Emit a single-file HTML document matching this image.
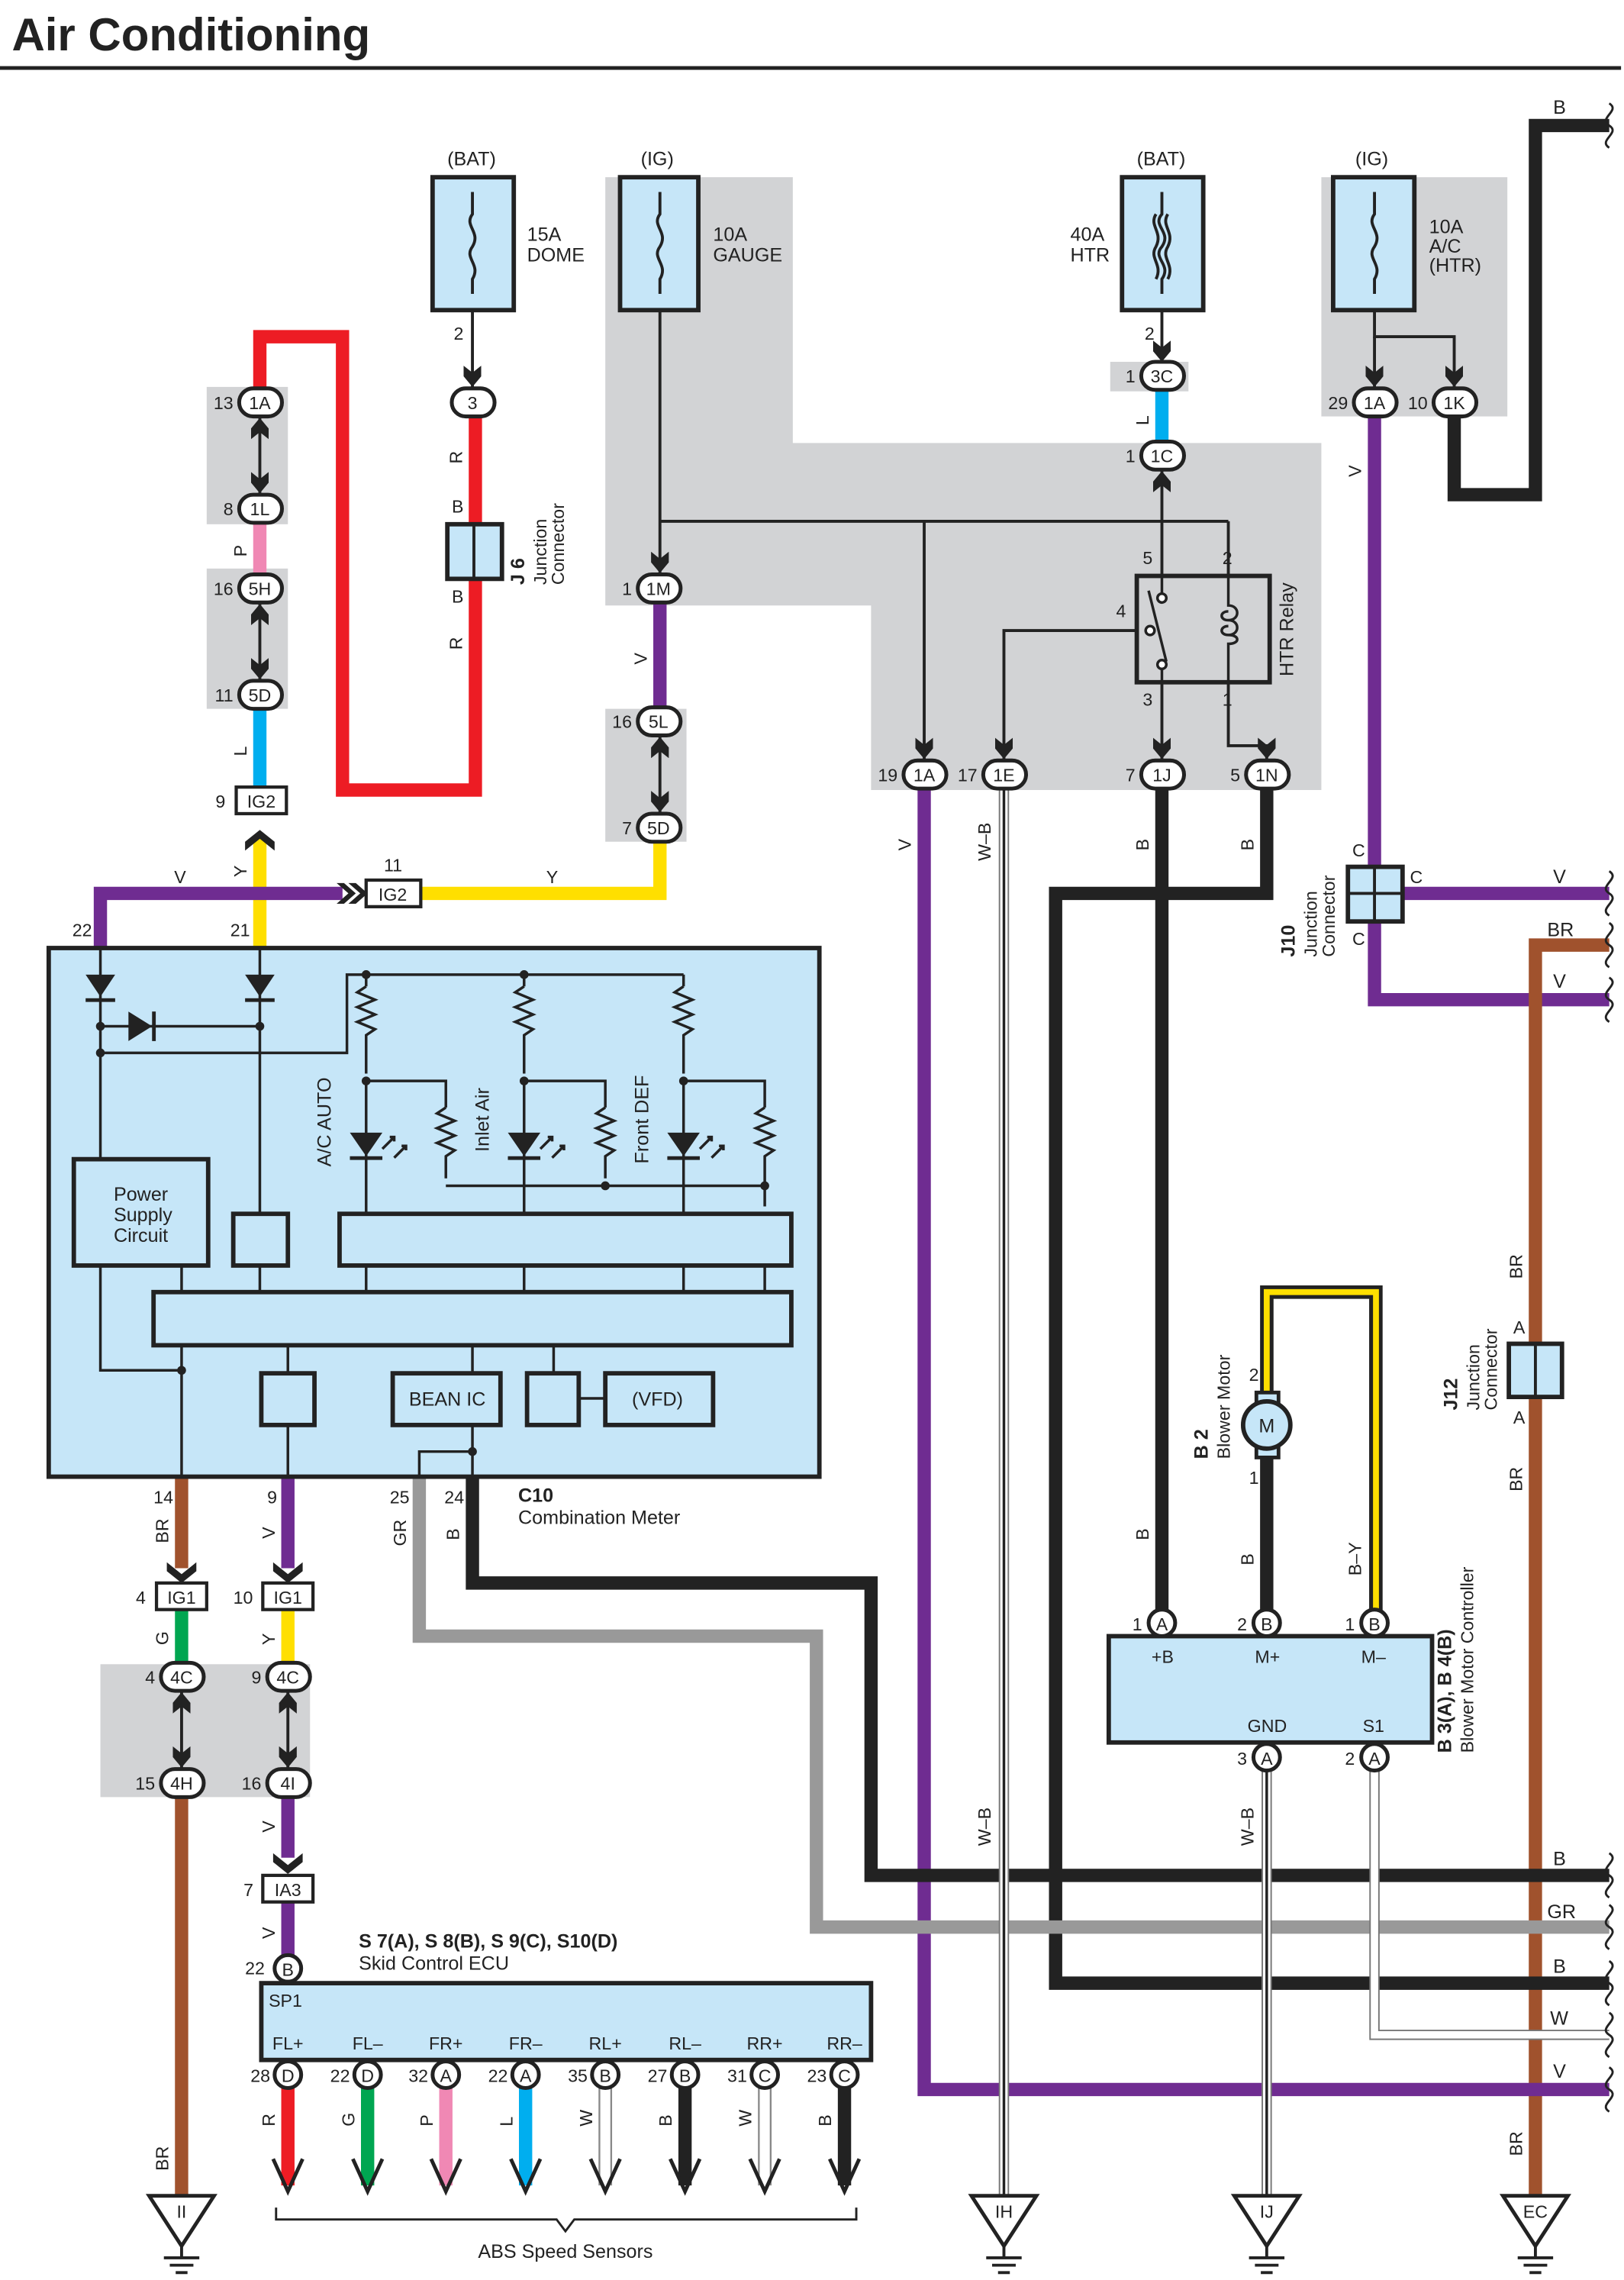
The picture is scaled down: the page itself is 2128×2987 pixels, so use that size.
<!DOCTYPE html>
<html><head><meta charset="utf-8"><style>
html,body{margin:0;padding:0;background:#fff}
svg{display:block}
text{font-family:"Liberation Sans",sans-serif;fill:#222}
</style></head><body>
<svg width="2128" height="2987" viewBox="0 0 1100 1544" xmlns="http://www.w3.org/2000/svg">
<defs>
<marker id="ah" viewBox="0 0 12 10" refX="12" refY="5" markerWidth="7.2" markerHeight="6" orient="auto-start-reverse"><path d="M0,0 L4,5 L0,10 L6,10 L12,5 L6,0Z" fill="#222"/></marker>
</defs>
<rect width="1100" height="1544" fill="#fff"/>
<text x="8" y="34" font-size="31" font-weight="bold" fill="#222">Air Conditioning</text>
<line x1="0" y1="46" x2="1098" y2="46" stroke="#222" stroke-width="2.5"/>

<g fill="#d2d3d5">
<polygon points="410,120 537,120 537,300 895,300 895,535 590,535 590,410 410,410"/>
<rect x="410" y="480" width="55" height="90"/>
<rect x="895" y="120" width="126" height="162"/>
<rect x="752" y="245" width="53" height="20"/>
<rect x="140" y="262" width="55" height="93"/>
<rect x="140" y="385" width="55" height="95"/>
<rect x="68" y="1127" width="142" height="90"/>
</g>

<g stroke="#222" stroke-width="3" fill="#c6e6f8">
<rect x="293" y="120" width="55" height="90"/>
<rect x="420" y="120" width="53" height="90"/>
<rect x="760" y="120" width="55" height="90"/>
<rect x="903" y="120" width="55" height="90"/>
</g>
<g stroke="#222" stroke-width="2" fill="none">
<path d="M320,130 v15 c-6,8 6,12 0,22 c-6,8 6,12 0,22 v10"/>
<path d="M447,130 v15 c-6,8 6,12 0,22 c-6,8 6,12 0,22 v10"/>
<path d="M787,130 v15 c-7,8 7,12 0,22 c-7,8 7,12 0,22 v10"/>
<path d="M783,145 c-5,8 5,12 0,22 c-5,8 5,12 0,22"/>
<path d="M791,145 c-5,8 5,12 0,22 c-5,8 5,12 0,22"/>
<path d="M931,130 v15 c-6,8 6,12 0,22 c-6,8 6,12 0,22 v10"/>
</g>
<g font-size="13">
<text x="303" y="112">(BAT)</text><text x="434" y="112">(IG)</text><text x="770" y="112">(BAT)</text><text x="918" y="112">(IG)</text>
<text x="357" y="163">15A</text><text x="357" y="177">DOME</text>
<text x="483" y="163">10A</text><text x="483" y="177">GAUGE</text>
<text x="725" y="163">40A</text><text x="725" y="177">HTR</text>
<text x="968" y="158">10A</text><text x="968" y="171">A/C</text><text x="968" y="184">(HTR)</text>
</g>

<g fill="none" stroke-linejoin="miter" stroke-width="9">
<polyline stroke="#ed1c24" points="176,262 176,228 232,228 232,535 322,535 322,392"/>
<line stroke="#ed1c24" x1="322" y1="282" x2="322" y2="355"/>
<line stroke="#f088b4" x1="176" y1="352" x2="176" y2="390"/>
<line stroke="#00aeef" x1="176" y1="478" x2="176" y2="535"/>
<line stroke="#ffdf00" x1="176" y1="568" x2="176" y2="642"/>
<polyline stroke="#6f2c91" points="68,642 68,605 232,605"/>
<polyline stroke="#ffdf00" points="285,605 447,605 447,568"/>
<line stroke="#6f2c91" x1="447" y1="406" x2="447" y2="482"/>
<line stroke="#00aeef" x1="787" y1="262" x2="787" y2="302"/>
<polyline stroke="#222" points="985,280 985,335 1040,335 1040,85 1090,85"/>
<polyline stroke="#6f2c91" points="931,280 931,677 1090,677"/>
<line stroke="#6f2c91" x1="931" y1="605" x2="1090" y2="605"/>
<polyline stroke="#a0522d" points="1090,640 1040,640 1040,1490"/>
<line stroke="#222" x1="787" y1="532" x2="787" y2="1092"/>
<polyline stroke="#222" points="858,532 858,605 715,605 715,1343 1090,1343"/>
<polyline stroke="#6f2c91" points="626,532 626,1415 1090,1415"/>
<line stroke="#222" x1="858" y1="980" x2="858" y2="1092"/>
<line stroke="#a0522d" x1="123" y1="1000" x2="123" y2="1062"/>
<line stroke="#00a651" x1="123" y1="1089" x2="123" y2="1128"/>
<line stroke="#a0522d" x1="123" y1="1215" x2="123" y2="1488"/>
<line stroke="#6f2c91" x1="195" y1="1000" x2="195" y2="1062"/>
<line stroke="#ffdf00" x1="195" y1="1089" x2="195" y2="1128"/>
<line stroke="#6f2c91" x1="195" y1="1215" x2="195" y2="1258"/>
<line stroke="#6f2c91" x1="195" y1="1288" x2="195" y2="1325"/>
<polyline stroke="#999" points="284,1000 284,1108 553,1108 553,1305 1090,1305"/>
<polyline stroke="#222" points="320,1000 320,1072 590,1072 590,1270 1090,1270"/>
</g>
<polyline points="858,950 858,875 932,875 932,1092" fill="none" stroke="#222" stroke-width="9"/>
<polyline points="858,950 858,875 932,875 932,1092" fill="none" stroke="#ffdf00" stroke-width="4"/>
<polyline points="862,950 862,879 928,879 928,1092" fill="none" stroke="#222" stroke-width="1.2"/>
<g fill="none">
<line x1="680" y1="532" x2="680" y2="1488" stroke="#777" stroke-width="7"/>
<line x1="680" y1="532" x2="680" y2="1488" stroke="#fff" stroke-width="5"/>
<line x1="680" y1="532" x2="680" y2="1488" stroke="#222" stroke-width="1.8"/>
<line x1="858" y1="1198" x2="858" y2="1488" stroke="#777" stroke-width="7"/>
<line x1="858" y1="1198" x2="858" y2="1488" stroke="#fff" stroke-width="5"/>
<line x1="858" y1="1198" x2="858" y2="1488" stroke="#222" stroke-width="1.8"/>
<polyline points="931,1198 931,1378 1090,1378" stroke="#777" stroke-width="7"/>
<polyline points="931,1198 931,1378 1090,1378" stroke="#fff" stroke-width="5"/>
</g>

<g fill="none" stroke="#222" stroke-width="1.5">
<path d="M1090,70 c8,5 -8,10 0,15 c8,5 -8,10 0,15"/>
<path d="M1090,590 c8,5 -8,10 0,15 c8,5 -8,10 0,15"/>
<path d="M1090,625 c8,5 -8,10 0,15 c8,5 -8,10 0,15"/>
<path d="M1090,662 c8,5 -8,10 0,15 c8,5 -8,10 0,15"/>
<path d="M1090,1255 c8,5 -8,10 0,15 c8,5 -8,10 0,15"/>
<path d="M1090,1290 c8,5 -8,10 0,15 c8,5 -8,10 0,15"/>
<path d="M1090,1328 c8,5 -8,10 0,15 c8,5 -8,10 0,15"/>
<path d="M1090,1363 c8,5 -8,10 0,15 c8,5 -8,10 0,15"/>
<path d="M1090,1400 c8,5 -8,10 0,15 c8,5 -8,10 0,15"/>
</g>
<g font-size="13">
<text x="1052" y="77">B</text><text x="1052" y="598">V</text><text x="1048" y="634">BR</text><text x="1052" y="669">V</text>
<text x="1052" y="1263">B</text><text x="1048" y="1299">GR</text><text x="1052" y="1336">B</text><text x="1050" y="1371">W</text><text x="1052" y="1407">V</text>
</g>

<g fill="none" stroke="#222" stroke-width="2">
<line x1="320" y1="210" x2="320" y2="262" marker-end="url(#ah)"/>
<line x1="447" y1="210" x2="447" y2="388" marker-end="url(#ah)"/>
<line x1="447" y1="353" x2="832" y2="353"/>
<line x1="626" y1="353" x2="626" y2="514" marker-end="url(#ah)"/>
<polyline points="770,427 680,427 680,514" marker-end="url(#ah)"/>
<line x1="787" y1="210" x2="787" y2="245" marker-end="url(#ah)"/>
<line x1="787" y1="390" x2="787" y2="319" marker-end="url(#ah)"/>
<line x1="787" y1="462" x2="787" y2="514" marker-end="url(#ah)"/>
<polyline points="832,353 832,390"/>
<polyline points="832,462 832,505 858,505 858,514" marker-end="url(#ah)"/>
<polyline points="931,210 931,228 985,228 985,262" marker-end="url(#ah)"/>
<line x1="931" y1="228" x2="931" y2="262" marker-end="url(#ah)"/>
<line x1="176" y1="283" x2="176" y2="334" marker-start="url(#ah)" marker-end="url(#ah)"/>
<line x1="176" y1="409" x2="176" y2="460" marker-start="url(#ah)" marker-end="url(#ah)"/>
<line x1="447" y1="499" x2="447" y2="550" marker-start="url(#ah)" marker-end="url(#ah)"/>
<line x1="123" y1="1146" x2="123" y2="1197" marker-start="url(#ah)" marker-end="url(#ah)"/>
<line x1="195" y1="1146" x2="195" y2="1197" marker-start="url(#ah)" marker-end="url(#ah)"/>
</g>
<g fill="#222">
<path d="M113,1058 l10,8 l10,-8 v6 l-10,8 l-10,-8z"/>
<path d="M185,1058 l10,8 l10,-8 v6 l-10,8 l-10,-8z"/>
<path d="M185,1255 l10,8 l10,-8 v6 l-10,8 l-10,-8z"/>
<path d="M166,570 l10,-8 l10,8 v6 l-10,-8 l-10,8z"/>
<path d="M228,598 l8,7 l-8,7 h5 l8,-7 l-8,-7z"/>
<path d="M236,598 l8,7 l-8,7 h5 l8,-7 l-8,-7z"/>
</g>

<rect x="770" y="390" width="90" height="72" fill="none" stroke="#222" stroke-width="3"/>
<g fill="none" stroke="#222" stroke-width="1.8">
<line x1="787" y1="390" x2="787" y2="402"/><circle cx="787" cy="405" r="3" fill="#fff"/>
<line x1="778" y1="400" x2="790" y2="448"/><circle cx="779" cy="427" r="3" fill="#fff"/>
<circle cx="787" cy="450" r="3" fill="#fff"/><line x1="787" y1="453" x2="787" y2="462"/>
<path d="M832,390 v20 c8,0 8,10 0,10 c-6,0 -6,-6 0,-6 M832,420 c8,0 8,10 0,10 c-6,0 -6,-6 0,-6 M832,430 c8,0 8,6 0,6 v26"/>
</g>
<text transform="translate(876,458) rotate(-90)" font-size="13">HTR Relay</text>
<g font-size="12">
<text x="774" y="382">5</text><text x="828" y="382">2</text><text x="756" y="418">4</text><text x="774" y="478">3</text><text x="828" y="478">1</text>
</g>

<rect x="303" y="355" width="37" height="37" fill="#c6e6f8" stroke="#222" stroke-width="3"/>
<line x1="321" y1="355" x2="321" y2="392" stroke="#222" stroke-width="2"/>
<text x="306" y="347" font-size="12">B</text><text x="306" y="408" font-size="12">B</text>
<text transform="translate(355,396) rotate(-90)" font-size="13" font-weight="bold">J 6</text>
<text transform="translate(370,396) rotate(-90)" font-size="12">Junction</text>
<text transform="translate(382,396) rotate(-90)" font-size="12">Connector</text>
<rect x="913" y="587" width="37" height="37" fill="#c6e6f8" stroke="#222" stroke-width="3"/>
<line x1="913" y1="605" x2="950" y2="605" stroke="#222" stroke-width="2"/>
<line x1="931" y1="587" x2="931" y2="624" stroke="#222" stroke-width="2"/>
<text x="916" y="580" font-size="12">C</text><text x="955" y="598" font-size="12">C</text><text x="916" y="640" font-size="12">C</text>
<text transform="translate(877,648) rotate(-90)" font-size="13" font-weight="bold">J10</text>
<text transform="translate(892,648) rotate(-90)" font-size="12">Junction</text>
<text transform="translate(904,648) rotate(-90)" font-size="12">Connector</text>
<rect x="1022" y="910" width="36" height="36" fill="#c6e6f8" stroke="#222" stroke-width="3"/>
<line x1="1040" y1="910" x2="1040" y2="946" stroke="#222" stroke-width="2"/>
<text x="1025" y="903" font-size="12">A</text><text x="1025" y="964" font-size="12">A</text>
<text transform="translate(987,955) rotate(-90)" font-size="13" font-weight="bold">J12</text>
<text transform="translate(1002,955) rotate(-90)" font-size="12">Junction</text>
<text transform="translate(1014,955) rotate(-90)" font-size="12">Connector</text>

<g stroke="#222" stroke-width="2.6" fill="#fff">
<rect x="162" y="263" width="29" height="19" rx="9.5"/>
<rect x="306" y="263" width="29" height="19" rx="9.5"/>
<rect x="162" y="335" width="29" height="19" rx="9.5"/>
<rect x="162" y="389" width="29" height="19" rx="9.5"/>
<rect x="162" y="461" width="29" height="19" rx="9.5"/>
<rect x="432" y="389" width="29" height="19" rx="9.5"/>
<rect x="432" y="479" width="29" height="19" rx="9.5"/>
<rect x="432" y="551" width="29" height="19" rx="9.5"/>
<rect x="773" y="245" width="29" height="19" rx="9.5"/>
<rect x="773" y="299" width="29" height="19" rx="9.5"/>
<rect x="612" y="515" width="29" height="19" rx="9.5"/>
<rect x="666" y="515" width="29" height="19" rx="9.5"/>
<rect x="773" y="515" width="29" height="19" rx="9.5"/>
<rect x="844" y="515" width="29" height="19" rx="9.5"/>
<rect x="917" y="263" width="29" height="19" rx="9.5"/>
<rect x="971" y="263" width="29" height="19" rx="9.5"/>
<rect x="109" y="1126" width="29" height="19" rx="9.5"/>
<rect x="181" y="1126" width="29" height="19" rx="9.5"/>
<rect x="109" y="1198" width="29" height="19" rx="9.5"/>
<rect x="181" y="1198" width="29" height="19" rx="9.5"/>
</g>
<g font-size="12" text-anchor="middle">
<text x="176" y="277">1A</text><text x="320" y="277">3</text><text x="176" y="349">1L</text><text x="176" y="403">5H</text><text x="176" y="475">5D</text>
<text x="446" y="403">1M</text><text x="446" y="493">5L</text><text x="446" y="565">5D</text>
<text x="787" y="259">3C</text><text x="787" y="313">1C</text>
<text x="626" y="529">1A</text><text x="680" y="529">1E</text><text x="787" y="529">1J</text><text x="858" y="529">1N</text>
<text x="931" y="277">1A</text><text x="985" y="277">1K</text>
<text x="123" y="1140">4C</text><text x="195" y="1140">4C</text><text x="123" y="1212">4H</text><text x="195" y="1212">4I</text>
</g>
<g font-size="12" text-anchor="end">
<text x="158" y="277">13</text><text x="158" y="349">8</text><text x="158" y="403">16</text><text x="158" y="475">11</text>
<text x="314" y="230">2</text><text x="428" y="403">1</text><text x="428" y="493">16</text><text x="428" y="565">7</text>
<text x="782" y="230">2</text><text x="769" y="259">1</text><text x="769" y="313">1</text>
<text x="608" y="529">19</text><text x="662" y="529">17</text><text x="769" y="529">7</text><text x="840" y="529">5</text>
<text x="913" y="277">29</text><text x="967" y="277">10</text>
<text x="105" y="1140">4</text><text x="177" y="1140">9</text><text x="105" y="1212">15</text><text x="177" y="1212">16</text>
</g>
<g stroke="#222" stroke-width="2.2" fill="#fff">
<rect x="160" y="533" width="34" height="18"/>
<rect x="248" y="596" width="37" height="18"/>
<rect x="106" y="1072" width="34" height="18"/>
<rect x="178" y="1072" width="34" height="18"/>
<rect x="178" y="1270" width="34" height="18"/>
</g>
<g font-size="12" text-anchor="middle">
<text x="177" y="547">IG2</text><text x="266" y="610">IG2</text><text x="123" y="1086">IG1</text><text x="195" y="1086">IG1</text><text x="195" y="1284">IA3</text>
</g>
<g font-size="12">
<text x="146" y="547">9</text><text x="260" y="590">11</text><text x="92" y="1086">4</text><text x="158" y="1086">10</text><text x="165" y="1284">7</text>
<text x="49" y="634">22</text><text x="156" y="634">21</text>
</g>

<g font-size="12">
<text transform="translate(313,314) rotate(-90)">R</text>
<text transform="translate(313,440) rotate(-90)">R</text>
<text transform="translate(167,377) rotate(-90)">P</text>
<text transform="translate(167,512) rotate(-90)">L</text>
<text transform="translate(167,594) rotate(-90)">Y</text>
<text x="118" y="598">V</text><text x="370" y="598">Y</text>
<text transform="translate(438,450) rotate(-90)">V</text>
<text transform="translate(778,288) rotate(-90)">L</text>
<text transform="translate(922,323) rotate(-90)">V</text>
<text transform="translate(617,576) rotate(-90)">V</text>
<text transform="translate(671,583) rotate(-90)">W–B</text>
<text transform="translate(778,576) rotate(-90)">B</text>
<text transform="translate(849,576) rotate(-90)">B</text>
<text transform="translate(778,1043) rotate(-90)">B</text>
<text transform="translate(849,1060) rotate(-90)">B</text>
<text transform="translate(922,1067) rotate(-90)">B–Y</text>
<text transform="translate(1031,866) rotate(-90)">BR</text>
<text transform="translate(1031,1010) rotate(-90)">BR</text>
<text transform="translate(1031,1460) rotate(-90)">BR</text>
<text transform="translate(671,1250) rotate(-90)">W–B</text>
<text transform="translate(849,1250) rotate(-90)">W–B</text>
<text transform="translate(114,1045) rotate(-90)">BR</text>
<text transform="translate(114,1114) rotate(-90)">G</text>
<text transform="translate(114,1470) rotate(-90)">BR</text>
<text transform="translate(186,1042) rotate(-90)">V</text>
<text transform="translate(186,1114) rotate(-90)">Y</text>
<text transform="translate(186,1241) rotate(-90)">V</text>
<text transform="translate(186,1313) rotate(-90)">V</text>
<text transform="translate(275,1047) rotate(-90)">GR</text>
<text transform="translate(311,1043) rotate(-90)">B</text>
</g>

<rect x="33" y="642" width="522" height="358" fill="#c6e6f8" stroke="#222" stroke-width="3"/>
<g fill="none" stroke="#222" stroke-width="1.8">
<polyline points="68,642 68,785"/><polyline points="176,642 176,822"/>
<line x1="68" y1="695" x2="176" y2="695"/>
<polyline points="68,713 235,713 235,660 463,660"/>
<line x1="248" y1="660" x2="248" y2="668"/><line x1="355" y1="660" x2="355" y2="668"/><line x1="463" y1="660" x2="463" y2="668"/>
<path d="M248,668 l-6,4 l12,5 l-12,5 l12,5 l-12,5 l12,5 l-6,4 v26 M355,668 l-6,4 l12,5 l-12,5 l12,5 l-12,5 l12,5 l-6,4 v26 M463,668 l-6,4 l12,5 l-12,5 l12,5 l-12,5 l12,5 l-6,4 v26"/>
<line x1="248" y1="732" x2="248" y2="822"/><line x1="355" y1="732" x2="355" y2="822"/><line x1="463" y1="732" x2="463" y2="822"/>
<polyline points="248,732 302,732 302,750"/><polyline points="355,732 410,732 410,750"/><polyline points="463,732 518,732 518,750"/>
<path d="M302,750 l-6,4 l12,5 l-12,5 l12,5 l-12,5 l12,5 l-6,4 v15 M410,750 l-6,4 l12,5 l-12,5 l12,5 l-12,5 l12,5 l-6,4 v15 M518,750 l-6,4 l12,5 l-12,5 l12,5 l-12,5 l12,5 l-6,4 v34"/>
<line x1="302" y1="803" x2="518" y2="803"/>
<line x1="123" y1="857" x2="123" y2="875"/><line x1="176" y1="857" x2="176" y2="875"/>
<line x1="248" y1="857" x2="248" y2="875"/><line x1="355" y1="857" x2="355" y2="875"/><line x1="463" y1="857" x2="463" y2="875"/><line x1="518" y1="857" x2="518" y2="875"/>
<polyline points="68,857 68,928 123,928"/>
<line x1="123" y1="911" x2="123" y2="1000"/>
<line x1="195" y1="911" x2="195" y2="930"/><line x1="195" y1="965" x2="195" y2="1000"/>
<line x1="320" y1="911" x2="320" y2="930"/><line x1="320" y1="965" x2="320" y2="1000"/>
<polyline points="320,983 284,983 284,1000"/>
<line x1="375" y1="911" x2="375" y2="930"/><line x1="392" y1="947" x2="410" y2="947"/>
<path d="M259,778 l8,-8 m-3,0 h3 v3 M267,784 l8,-8 m-3,0 h3 v3 M366,778 l8,-8 m-3,0 h3 v3 M374,784 l8,-8 m-3,0 h3 v3 M474,778 l8,-8 m-3,0 h3 v3 M482,784 l8,-8 m-3,0 h3 v3"/>
</g>
<g fill="#222">
<path d="M58,660 h20 l-10,15z"/><rect x="58" y="676" width="20" height="2.5"/>
<path d="M166,660 h20 l-10,15z"/><rect x="166" y="676" width="20" height="2.5"/>
<path d="M87,685 v20 l16,-10z"/><rect x="103" y="685" width="2.5" height="20"/>
<path d="M237,767 h22 l-11,16z"/><rect x="237" y="783" width="22" height="2.5"/>
<path d="M344,767 h22 l-11,16z"/><rect x="344" y="783" width="22" height="2.5"/>
<path d="M452,767 h22 l-11,16z"/><rect x="452" y="783" width="22" height="2.5"/>
<circle cx="68" cy="695" r="3"/><circle cx="176" cy="695" r="3"/><circle cx="68" cy="713" r="3"/>
<circle cx="248" cy="660" r="3"/><circle cx="355" cy="660" r="3"/>
<circle cx="248" cy="732" r="3"/><circle cx="355" cy="732" r="3"/><circle cx="463" cy="732" r="3"/>
<circle cx="410" cy="803" r="3"/><circle cx="518" cy="803" r="3"/>
<circle cx="123" cy="928" r="3"/><circle cx="320" cy="983" r="3"/>
</g>
<g fill="none" stroke="#222" stroke-width="3">
<rect x="50" y="785" width="91" height="72"/>
<rect x="158" y="822" width="37" height="35"/>
<rect x="230" y="822" width="306" height="35"/>
<rect x="104" y="875" width="432" height="36"/>
<rect x="177" y="930" width="36" height="35"/>
<rect x="266" y="930" width="73" height="35"/>
<rect x="357" y="930" width="35" height="35"/>
<rect x="410" y="930" width="73" height="35"/>
</g>
<g font-size="13">
<text x="77" y="813">Power</text><text x="77" y="827">Supply</text><text x="77" y="841">Circuit</text>
<text x="277" y="952">BEAN IC</text><text x="428" y="952">(VFD)</text>
<text transform="translate(224,790) rotate(-90)">A/C AUTO</text>
<text transform="translate(331,780) rotate(-90)">Inlet Air</text>
<text transform="translate(439,788) rotate(-90)">Front DEF</text>
</g>
<g font-size="12">
<text x="104" y="1018">14</text><text x="181" y="1018">9</text><text x="264" y="1018">25</text><text x="301" y="1018">24</text>
<text x="351" y="1017" font-weight="bold" font-size="13">C10</text><text x="351" y="1032" font-size="13">Combination Meter</text>
</g>

<rect x="851" y="943" width="15" height="44" fill="#c6e6f8" stroke="#222" stroke-width="2.5"/>
<circle cx="858" cy="965" r="16" fill="#c6e6f8" stroke="#222" stroke-width="3"/>
<text x="858" y="970" font-size="13" text-anchor="middle">M</text>
<text x="846" y="935" font-size="12">2</text><text x="846" y="1005" font-size="12">1</text>
<text transform="translate(818,988) rotate(-90)" font-size="13" font-weight="bold">B 2</text>
<text transform="translate(833,988) rotate(-90)" font-size="12">Blower Motor</text>

<rect x="751" y="1108" width="219" height="72" fill="#c6e6f8" stroke="#222" stroke-width="3"/>
<g stroke="#222" stroke-width="2.6" fill="#fff">
<circle cx="787" cy="1099" r="9"/><circle cx="858" cy="1099" r="9"/><circle cx="931" cy="1099" r="9"/>
<circle cx="858" cy="1190" r="9"/><circle cx="931" cy="1190" r="9"/>
</g>
<g font-size="12" text-anchor="middle">
<text x="787" y="1104">A</text><text x="858" y="1104">B</text><text x="931" y="1104">B</text><text x="858" y="1195">A</text><text x="931" y="1195">A</text>
</g>
<g font-size="12">
<text x="767" y="1104">1</text><text x="838" y="1104">2</text><text x="911" y="1104">1</text><text x="838" y="1195">3</text><text x="911" y="1195">2</text>
<text x="780" y="1126">+B</text><text x="850" y="1126">M+</text><text x="922" y="1126">M–</text>
<text x="845" y="1173">GND</text><text x="923" y="1173">S1</text>
</g>
<text transform="translate(983,1187) rotate(-90)" font-size="13" font-weight="bold">B 3(A), B 4(B)</text>
<text transform="translate(998,1187) rotate(-90)" font-size="12">Blower Motor Controller</text>

<rect x="177" y="1343" width="413" height="52" fill="#c6e6f8" stroke="#222" stroke-width="3"/>
<circle cx="195" cy="1333" r="9" fill="#fff" stroke="#222" stroke-width="2.6"/>
<text x="195" y="1338" font-size="12" text-anchor="middle">B</text>
<text x="166" y="1337" font-size="12">22</text>
<text x="243" y="1319" font-size="13" font-weight="bold">S 7(A), S 8(B), S 9(C), S10(D)</text>
<text x="243" y="1334" font-size="13">Skid Control ECU</text>
<text x="182" y="1359" font-size="12">SP1</text>
<g font-size="12" text-anchor="middle">
<text x="195" y="1388">FL+</text><text x="249" y="1388">FL–</text><text x="302" y="1388">FR+</text><text x="356" y="1388">FR–</text>
<text x="410" y="1388">RL+</text><text x="464" y="1388">RL–</text><text x="518" y="1388">RR+</text><text x="572" y="1388">RR–</text>
</g>
<g stroke-width="9" fill="none">
<line x1="195" y1="1412" x2="195" y2="1480" stroke="#ed1c24"/>
<line x1="249" y1="1412" x2="249" y2="1480" stroke="#00a651"/>
<line x1="302" y1="1412" x2="302" y2="1480" stroke="#f088b4"/>
<line x1="356" y1="1412" x2="356" y2="1480" stroke="#00aeef"/>
<line x1="464" y1="1412" x2="464" y2="1480" stroke="#222"/>
<line x1="572" y1="1412" x2="572" y2="1480" stroke="#222"/>
</g>
<g stroke="#888" stroke-width="1.2" fill="none">
<path d="M406,1412 v68 M414,1412 v68 M514,1412 v68 M522,1412 v68"/>
</g>
<g stroke="#222" stroke-width="2.5" fill="none">
<path d="M185,1462 l10,22 l10,-22 M239,1462 l10,22 l10,-22 M292,1462 l10,22 l10,-22 M346,1462 l10,22 l10,-22 M400,1462 l10,22 l10,-22 M454,1462 l10,22 l10,-22 M508,1462 l10,22 l10,-22 M562,1462 l10,22 l10,-22"/>
</g>
<g stroke="#222" stroke-width="2.6" fill="#fff">
<circle cx="195" cy="1405" r="9"/><circle cx="249" cy="1405" r="9"/><circle cx="302" cy="1405" r="9"/><circle cx="356" cy="1405" r="9"/>
<circle cx="410" cy="1405" r="9"/><circle cx="464" cy="1405" r="9"/><circle cx="518" cy="1405" r="9"/><circle cx="572" cy="1405" r="9"/>
</g>
<g font-size="12" text-anchor="middle">
<text x="195" y="1410">D</text><text x="249" y="1410">D</text><text x="302" y="1410">A</text><text x="356" y="1410">A</text>
<text x="410" y="1410">B</text><text x="464" y="1410">B</text><text x="518" y="1410">C</text><text x="572" y="1410">C</text>
</g>
<g font-size="12" text-anchor="end">
<text x="183" y="1410">28</text><text x="237" y="1410">22</text><text x="290" y="1410">32</text><text x="344" y="1410">22</text>
<text x="398" y="1410">35</text><text x="452" y="1410">27</text><text x="506" y="1410">31</text><text x="560" y="1410">23</text>
</g>
<g font-size="12">
<text transform="translate(186,1440) rotate(-90)">R</text><text transform="translate(240,1440) rotate(-90)">G</text>
<text transform="translate(293,1440) rotate(-90)">P</text><text transform="translate(347,1440) rotate(-90)">L</text>
<text transform="translate(401,1440) rotate(-90)">W</text><text transform="translate(455,1440) rotate(-90)">B</text>
<text transform="translate(509,1440) rotate(-90)">W</text><text transform="translate(563,1440) rotate(-90)">B</text>
</g>
<path d="M187,1495 v8 h190 l6,8 l6,-8 h191 v-8" fill="none" stroke="#222" stroke-width="1.5"/>
<text x="383" y="1529" font-size="13" text-anchor="middle">ABS Speed Sensors</text>

<g stroke="#222" stroke-width="2.5" fill="#fff">
<path d="M101,1487 h44 l-22,34z"/><path d="M658,1487 h44 l-22,34z"/><path d="M836,1487 h44 l-22,34z"/><path d="M1018,1487 h44 l-22,34z"/>
</g>
<g stroke="#222" stroke-width="2">
<path d="M123,1521 v8 M111,1529 h24 M115,1534 h16 M119,1539 h8"/>
<path d="M680,1521 v8 M668,1529 h24 M672,1534 h16 M676,1539 h8"/>
<path d="M858,1521 v8 M846,1529 h24 M850,1534 h16 M854,1539 h8"/>
<path d="M1040,1521 v8 M1028,1529 h24 M1032,1534 h16 M1036,1539 h8"/>
</g>
<g font-size="12" text-anchor="middle">
<text x="123" y="1502">II</text><text x="680" y="1502">IH</text><text x="858" y="1502">IJ</text><text x="1040" y="1502">EC</text>
</g>
</svg>
</body></html>
